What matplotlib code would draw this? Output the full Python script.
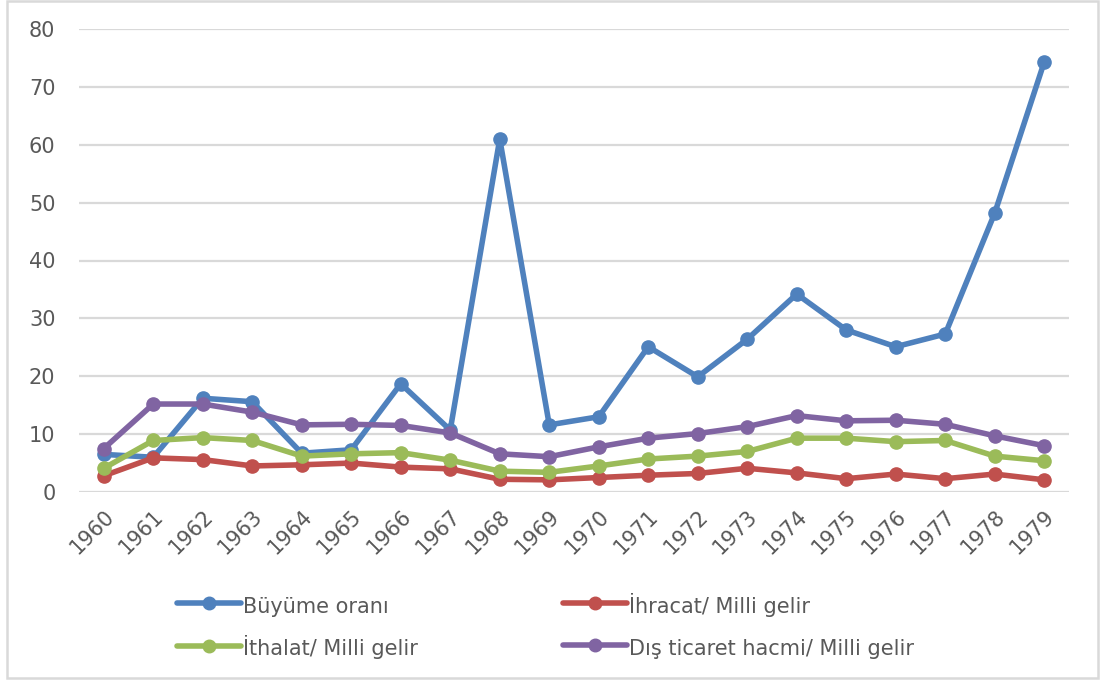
import matplotlib
matplotlib.use("Agg")
import matplotlib.pyplot as plt
from matplotlib.patches import Rectangle

years = [str(y) for y in range(1960, 1980)]
buyume = [6.5, 6.0, 16.2, 15.6, 6.7, 7.3, 18.7, 10.7, 61.0, 11.6,
          13.0, 25.1, 19.9, 26.4, 34.2, 28.0, 25.1, 27.3, 48.2, 74.3]
ihracat = [2.8, 5.9, 5.6, 4.5, 4.7, 5.0, 4.3, 4.0, 2.2, 2.1,
           2.5, 2.9, 3.2, 4.1, 3.3, 2.3, 3.1, 2.3, 3.1, 2.1]
ithalat = [4.1, 8.9, 9.4, 8.9, 6.2, 6.6, 6.8, 5.5, 3.6, 3.4,
           4.5, 5.7, 6.2, 7.0, 9.3, 9.3, 8.7, 8.9, 6.2, 5.4]
dis_ticaret = [7.5, 15.2, 15.2, 13.8, 11.6, 11.7, 11.5, 10.2, 6.6, 6.1,
               7.8, 9.3, 10.1, 11.3, 13.2, 12.3, 12.4, 11.7, 9.7, 8.0]
labels = ["Büyüme oranı", "İhracat/ Milli gelir", "İthalat/ Milli gelir",
          "Dış ticaret hacmi/ Milli gelir"]
colors = ["#4F81BD", "#C0504D", "#9BBB59", "#8064A2"]
yticks = [0, 10, 20, 30, 40, 50, 60, 70, 80]

plt.rcParams['font.family'] = ['DejaVu Sans']

W, H = 1103, 684
fig = plt.figure(figsize=(W / 100, H / 100), dpi=100)
ax = fig.add_axes([79 / W, (H - 492) / H, 990 / W, (492 - 29) / H])

x = list(range(len(years)))
series = [buyume, ihracat, ithalat, dis_ticaret]
handles = []
for vals, lab, col in zip(series, labels, colors):
    h, = ax.plot(x, vals, color=col, lw=4, marker='o', markersize=9.5,
                 label=lab, solid_capstyle='round', solid_joinstyle='round')
    handles.append(h)

ax.set_xlim(-0.5, len(years) - 0.5)
ax.set_ylim(0, 80)
ax.set_yticks(yticks)
ax.set_yticklabels([str(v) for v in yticks])
ax.set_xticks(x)
ax.set_xticklabels(years, rotation=45, ha='right', va='top',
                   rotation_mode='anchor')
ax.tick_params(axis='y', length=0, pad=17, labelsize=15, labelcolor='#595959')
ax.tick_params(axis='x', length=0, pad=10, labelsize=15, labelcolor='#595959')
ax.grid(axis='y', color='#D9D9D9', lw=1.6)
ax.set_axisbelow(True)
for s in ax.spines.values():
    s.set_visible(False)

leg = fig.legend([handles[0], handles[2], handles[1], handles[3]],
                 [labels[0], labels[2], labels[1], labels[3]],
                 ncol=2, loc='upper left', bbox_to_anchor=(158 / W, 1 - 574 / H),
                 frameon=False, fontsize=15, handlelength=3.07, handleheight=1.5,
                 handletextpad=0.1, columnspacing=6.96, labelspacing=0.81,
                 markerscale=0.95)
for t in leg.get_texts():
    t.set_color('#595959')

fig.patches.append(Rectangle((7 / W, 1 - 678 / H), (1098 - 7) / W, (678 - 1) / H,
                             transform=fig.transFigure, fill=False,
                             edgecolor='#D9D9D9', lw=1.8))

fig.savefig("out.png", dpi=100, facecolor='white')
